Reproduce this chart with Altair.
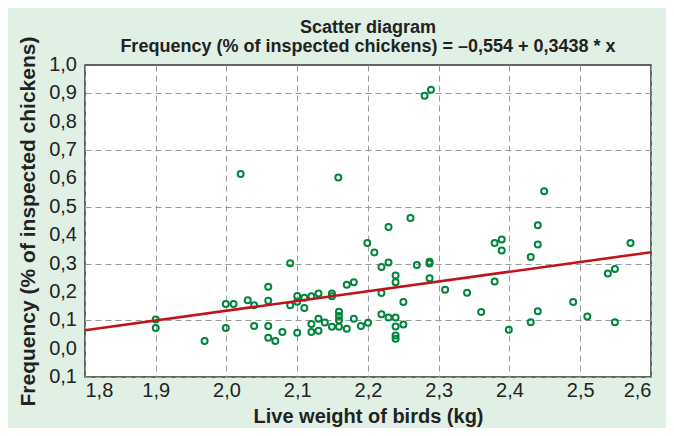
import altair as alt
import pandas as pd

weight = [1.900, 1.900, 1.969, 1.999, 2.010, 1.999, 2.030, 2.039, 2.039, 2.059,
          2.059, 2.059, 2.059, 2.069, 2.079, 2.090, 2.090, 2.100, 2.100, 2.100,
          2.110, 2.110, 2.120, 2.120, 2.120, 2.130, 2.130, 2.130, 2.139, 2.149,
          2.149, 2.149, 2.159, 2.159, 2.159, 2.159, 2.170, 2.170, 2.180, 2.180,
          2.190, 2.200, 2.199, 2.209, 2.219, 2.229, 2.239, 2.239, 2.219, 2.250,
          2.269, 2.287, 2.287, 2.287, 2.219, 2.229, 2.239, 2.250, 2.239, 2.239,
          2.239, 2.309, 2.340, 2.360, 2.379, 2.399, 2.430, 2.430, 2.440, 2.440,
          2.440, 2.449, 2.379, 2.389, 2.389, 2.490, 2.510, 2.539, 2.549, 2.549,
          2.571, 2.229, 2.260, 2.280, 2.289, 2.020, 2.158]
freq = [0.103, 0.073, 0.027, 0.157, 0.157, 0.073, 0.171, 0.153, 0.080, 0.218,
        0.169, 0.080, 0.038, 0.027, 0.059, 0.301, 0.153, 0.186, 0.165, 0.056,
        0.179, 0.143, 0.185, 0.087, 0.059, 0.194, 0.105, 0.063, 0.092, 0.194,
        0.185, 0.077, 0.130, 0.115, 0.100, 0.077, 0.225, 0.070, 0.234, 0.105,
        0.080, 0.091, 0.372, 0.339, 0.288, 0.304, 0.258, 0.234, 0.196, 0.164,
        0.295, 0.300, 0.306, 0.248, 0.121, 0.110, 0.110, 0.085, 0.078, 0.046,
        0.035, 0.208, 0.197, 0.129, 0.237, 0.067, 0.323, 0.093, 0.132, 0.367,
        0.435, 0.555, 0.372, 0.385, 0.346, 0.164, 0.113, 0.265, 0.281, 0.093,
        0.372, 0.429, 0.461, 0.892, 0.913, 0.616, 0.603]

intercept = -0.554
slope = 0.3438
line_x = [1.8, 2.6]

x_ticks = [1.8, 1.9, 2.0, 2.1, 2.2, 2.3, 2.4, 2.5, 2.6]
y_ticks = [-0.1, 0.0, 0.1, 0.2, 0.3, 0.4, 0.5, 0.6, 0.7, 0.8, 0.9, 1.0]
y_tick_labels = ["0,1", "0,0", "0,1", "0,2", "0,3", "0,4", "0,5", "0,6",
                 "0,7", "0,8", "0,9", "1,0"]

pts = pd.DataFrame({"w": weight, "f": freq})
ln = pd.DataFrame({"w": line_x, "f": [intercept + slope * v for v in line_x]})
ylab = pd.DataFrame({"f": y_ticks, "t": y_tick_labels})

FONT = "Liberation Sans Narrow, Arial Narrow, Liberation Sans, Arial, sans-serif"
lab = "replace(format(abs(datum.value), '.1f'), '.', ',')"

xscale = alt.Scale(domain=[1.8, 2.6], nice=False, zero=False)
yscale = alt.Scale(domain=[-0.1, 1.0], nice=False, zero=False)

xaxis = alt.Axis(values=x_ticks, labelExpr=lab, title="Live weight of birds (kg)",
                 grid=True, gridDash=[6, 4], gridColor="#9a9a9a", gridWidth=1,
                 ticks=False, domain=False, labelOverlap=False,
                 labelFont=FONT, labelFontSize=20,
                 labelColor="#222", labelPadding=3, titleFont=FONT, titleFontSize=20,
                 titleFontWeight="bold", titleColor="#222", titlePadding=6)
yaxis = alt.Axis(values=y_ticks, labels=False,
                 title="Frequency (% of inspected chickens)",
                 grid=True, gridDash=[6, 4], gridColor="#9a9a9a", gridWidth=1,
                 ticks=False, domain=False,
                 titleFont=FONT, titleFontSize=21, titleX=-47, titleY=156,
                 titleFontWeight="bold", titleColor="#222")

points = alt.Chart(pts).mark_point(shape="circle", filled=False, size=36,
                                    strokeWidth=2, color="#00853d", opacity=1).encode(
    x=alt.X("w:Q", scale=xscale, axis=xaxis),
    y=alt.Y("f:Q", scale=yscale, axis=yaxis),
)

reg = alt.Chart(ln).mark_line(color="#c0141c", strokeWidth=2.6).encode(
    x=alt.X("w:Q", scale=xscale),
    y=alt.Y("f:Q", scale=yscale),
)

ylabels = alt.Chart(ylab).mark_text(
    align="right", baseline="middle", font=FONT, fontSize=20, color="#222"
).encode(
    x=alt.value(-8),
    y=alt.Y("f:Q", scale=yscale),
    text="t:N",
)

chart = alt.layer(points, reg, ylabels).properties(
    width=566,
    height=312,
    autosize=alt.AutoSizeParams(type="none"),
    padding={"left": 77, "top": 57, "right": 15, "bottom": 51},
    background="#e1f0e5",
    title=alt.TitleParams(
        text=["Scatter diagram",
              "Frequency (% of inspected chickens) = \u20130,554 + 0,3438 * x"],
        font=FONT, fontSize=18, fontWeight="bold", color="#222",
        anchor="middle", offset=-20, lineHeight=19,
    ),
).configure_view(
    fill="white", stroke="#333", strokeWidth=1.5
)

chart.save("out.html", embed_options={"renderer": "svg", "actions": False})
